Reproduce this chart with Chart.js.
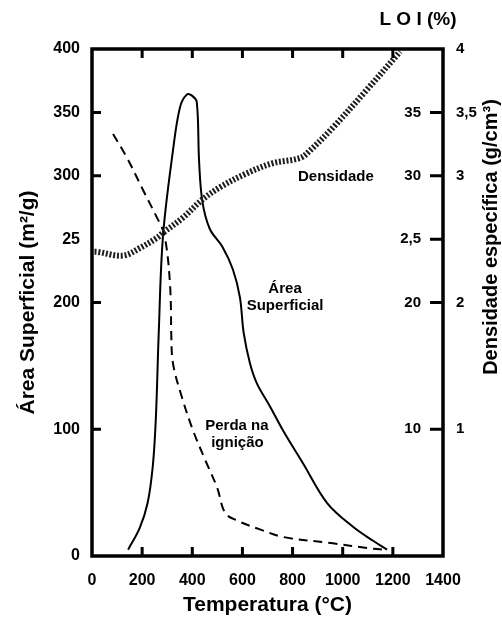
<!DOCTYPE html>
<html>
<head>
<meta charset="utf-8">
<script src="https://cdn.jsdelivr.net/npm/chart.js@4/dist/chart.umd.min.js"></script>
<style>
  html, body { margin: 0; padding: 0; background: #fff; }
  #wrap { width: 502px; height: 620px; }
</style>
</head>
<body>
<div id="wrap"><canvas id="chart" width="502" height="620"></canvas></div>
<script>
// curva de área superficial (m²/g) x temperatura (°C)
const areaTemp = [144, 190, 222, 243, 255, 266, 283, 323, 351, 378, 400, 418, 427, 440, 470, 520, 562, 590, 605, 630, 658, 710, 762, 842, 937, 1041, 1121, 1177];
const areaValues = [5, 22, 42, 72, 110, 175, 252, 320, 354, 364, 363, 358, 312, 280, 258, 244, 226, 204, 176, 152, 136, 118, 99, 73, 42, 23, 12, 5];

// perda na ignição (LOI %)
const loiTemp = [84, 140, 203, 259, 283, 299, 311, 315, 316, 323, 359, 403, 451, 499, 531, 578, 670, 762, 961, 1097, 1177];
const loiValues = [33.3, 31.4, 28.9, 26.7, 25.7, 24.1, 21.5, 19.4, 17.6, 15.2, 12.5, 9.9, 7.6, 5.4, 3.4, 2.8, 2.1, 1.5, 1.0, 0.63, 0.47];

// densidade específica (g/cm³)
const densTemp = [10, 20, 124, 191, 259, 283, 363, 439, 511, 618, 722, 830, 870, 961, 1097, 1229];
const densValues = [2.40, 2.40, 2.37, 2.43, 2.51, 2.55, 2.67, 2.81, 2.91, 3.02, 3.10, 3.14, 3.20, 3.38, 3.68, 3.98];

// rótulos dos eixos
const xTicks = [0, 200, 400, 600, 800, 1000, 1200, 1400];
const xTickLabels = ['0', '200', '400', '600', '800', '1000', '1200', '1400'];
const areaTicks = [0, 100, 200, 250, 300, 350, 400];
const areaTickLabels = ['0', '100', '200', '25', '300', '350', '400'];
const densTicks = [1, 2, 3, 3.5, 4];
const densTickLabels = ['1', '2', '3', '3,5', '4'];
const loiTicks = [10, 20, 25, 30, 35];
const loiTickLabels = ['10', '20', '2,5', '30', '35'];

const FONT = "'Liberation Sans', Arial, sans-serif";
Chart.defaults.font.family = FONT;
Chart.defaults.color = '#000';

const pts = (xs, ys) => xs.map((x, i) => ({ x: x, y: ys[i] }));

// moldura, marcas internas e textos
const extras = {
  id: 'extras',
  afterDatasetsDraw(chart) {
    const { ctx, chartArea: a, scales } = chart;
    const x = scales.x, y = scales.y, yl = scales.yLoi;
    ctx.save();
    ctx.strokeStyle = '#000';
    ctx.lineWidth = 3.5;
    ctx.strokeRect(a.left, a.top, a.right - a.left, a.bottom - a.top);

    ctx.lineWidth = 3;
    ctx.beginPath();
    [200, 400, 600, 800, 1000, 1200].forEach(v => {
      const px = x.getPixelForValue(v);
      ctx.moveTo(px, a.bottom); ctx.lineTo(px, a.bottom - 9);
      ctx.moveTo(px, a.top); ctx.lineTo(px, a.top + 9);
    });
    [100, 200, 300, 350].forEach(v => {
      const py = y.getPixelForValue(v);
      ctx.moveTo(a.left, py); ctx.lineTo(a.left + 9, py);
    });
    loiTicks.forEach(v => {
      const py = yl.getPixelForValue(v);
      ctx.moveTo(a.right - 13, py); ctx.lineTo(a.right, py);
    });
    ctx.stroke();

    // rótulos LOI dentro do gráfico
    ctx.fillStyle = '#000';
    ctx.font = 'bold 15px ' + FONT;
    ctx.textAlign = 'right';
    ctx.textBaseline = 'middle';
    loiTicks.forEach((v, i) => ctx.fillText(loiTickLabels[i], a.right - 22, yl.getPixelForValue(v)));

    // nomes das curvas
    ctx.textAlign = 'center';
    ctx.font = 'bold 15px ' + FONT;
    const txt = (s, tx, ty) => ctx.fillText(s, x.getPixelForValue(tx), y.getPixelForValue(ty));
    txt('Densidade', 973, 299);
    txt('Área', 770, 211);
    txt('Superficial', 770, 197);
    txt('Perda na', 578, 103);
    txt('ignição', 580, 89);

    // título superior e título do eixo direito
    ctx.font = 'bold 19px ' + FONT;
    ctx.fillText('L O I (%)', 418, 20);
    ctx.translate(491, 237);
    ctx.rotate(-Math.PI / 2);
    ctx.font = 'bold 20px ' + FONT;
    ctx.fillText('Densidade específica (g/cm³)', 0, 0);
    ctx.restore();
  }
};

new Chart(document.getElementById('chart'), {
  type: 'line',
  data: {
    datasets: [
      {
        label: 'Densidade',
        data: pts(densTemp, densValues),
        yAxisID: 'yDen',
        borderColor: '#1e1e1e',
        borderWidth: 6,
        borderDash: [2, 1.8],
        tension: 0.35,
        pointRadius: 0
      },
      {
        label: 'Área Superficial',
        data: pts(areaTemp, areaValues),
        yAxisID: 'y',
        borderColor: '#000',
        borderWidth: 2,
        tension: 0.35,
        pointRadius: 0
      },
      {
        label: 'Perda na ignição',
        data: pts(loiTemp, loiValues),
        yAxisID: 'yLoi',
        borderColor: '#000',
        borderWidth: 2,
        borderDash: [9, 6],
        tension: 0.35,
        pointRadius: 0
      }
    ]
  },
  options: {
    responsive: false,
    animation: false,
    layout: { padding: { top: 49, left: 0, right: 0, bottom: 0 } },
    plugins: { legend: { display: false }, tooltip: { enabled: false } },
    scales: {
      x: {
        type: 'linear',
        position: 'bottom',
        min: 0,
        max: 1400,
        afterBuildTicks: s => { s.ticks = xTicks.map(v => ({ value: v })); },
        grid: { display: false, drawTicks: false },
        border: { display: false },
        ticks: {
          font: { size: 16, weight: 'bold' },
          padding: 15,
          maxRotation: 0,
          autoSkip: false,
          callback: v => xTickLabels[xTicks.indexOf(v)]
        },
        title: { display: true, text: 'Temperatura (°C)', font: { size: 21, weight: 'bold' }, padding: { top: 0, bottom: 2 } },
        afterFit: s => { s.height = 64; }
      },
      y: {
        position: 'left',
        min: 0,
        max: 400,
        afterBuildTicks: s => { s.ticks = areaTicks.map(v => ({ value: v })); },
        grid: { display: false, drawTicks: false },
        border: { display: false },
        ticks: {
          font: { size: 16, weight: 'bold' },
          padding: 12,
          autoSkip: false,
          callback: v => areaTickLabels[areaTicks.indexOf(v)]
        },
        title: { display: true, text: 'Área Superficial (m²/g)', font: { size: 21, weight: 'bold' }, padding: { top: 16, bottom: 0 } },
        afterFit: s => { s.width = 92; }
      },
      yDen: {
        position: 'right',
        min: 0,
        max: 4,
        afterBuildTicks: s => { s.ticks = densTicks.map(v => ({ value: v })); },
        grid: { display: false, drawTicks: false },
        border: { display: false },
        ticks: {
          font: { size: 15, weight: 'bold' },
          padding: 13,
          autoSkip: false,
          callback: v => densTickLabels[densTicks.indexOf(v)]
        },
        afterFit: s => { s.width = 59; }
      },
      yLoi: { position: 'right', min: 0, max: 40, display: false }
    }
  },
  plugins: [extras]
});
</script>
</body>
</html>
